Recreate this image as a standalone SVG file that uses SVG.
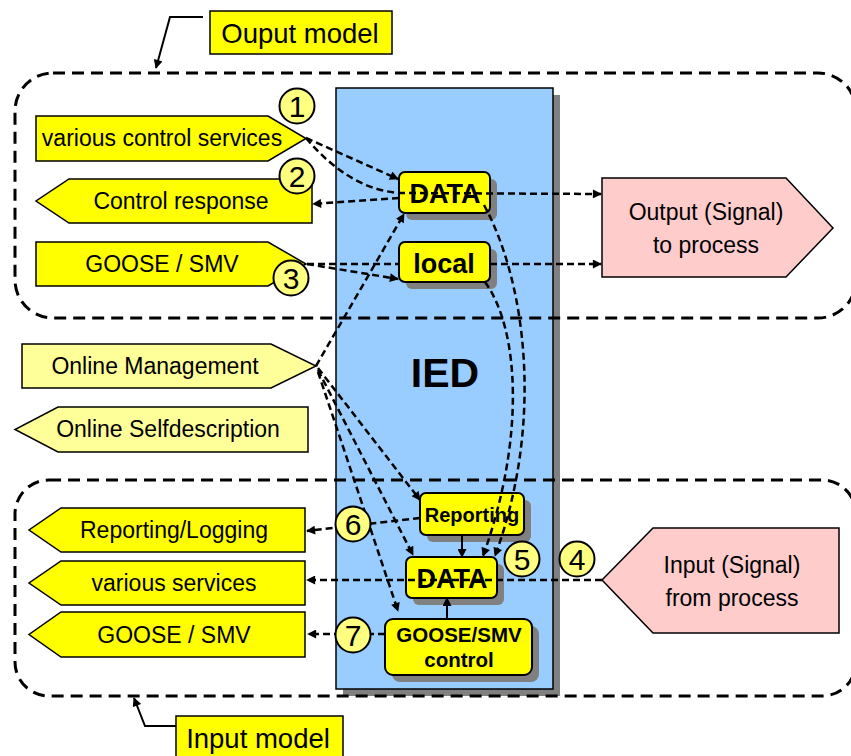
<svg xmlns="http://www.w3.org/2000/svg" width="851" height="756" viewBox="0 0 851 756">
<defs>
<style>
text{font-family:"Liberation Sans",Arial,sans-serif;fill:#000}
.t{font-size:23px;text-anchor:middle}
.b{font-weight:bold;text-anchor:middle}
.y{fill:#FFFF00;stroke:#000;stroke-width:1.5}
.ly{fill:#FFFF99;stroke:#000;stroke-width:1.5}
.pk{fill:#FFCCCC;stroke:#000;stroke-width:1.5}
.sh{fill:#808080}
.ib{fill:#FFFF00;stroke:#000;stroke-width:2}
.model{fill:none;stroke:#000;stroke-width:3;stroke-dasharray:12 7}
.c{fill:none;stroke:#000;stroke-width:2.5;stroke-dasharray:7 4;marker-end:url(#ah)}
.cn{fill:none;stroke:#000;stroke-width:2.5;stroke-dasharray:7 4}
.s{fill:none;stroke:#000;stroke-width:2;marker-end:url(#ah)}
.num{fill:#FFFF80;stroke:#000;stroke-width:2}
.n{font-size:30px;text-anchor:middle}
</style>
<marker id="ah" viewBox="0 0 10 10" refX="9" refY="5" markerWidth="10" markerHeight="9" markerUnits="userSpaceOnUse" orient="auto">
<path d="M0,0 L10,5 L0,10 z" fill="#000"/>
</marker>
</defs>

<g id="ied">
<rect class="sh" x="343" y="95" width="217" height="601"/>
<rect x="336" y="88" width="217" height="601" fill="#99CCFF" stroke="#000" stroke-width="1.5"/>
<text x="445" y="387" class="b" font-size="41">IED</text>
</g>

<g id="output-model">
<rect class="model" x="15" y="73" width="841" height="245" rx="38" ry="38"/>
</g>
<g id="input-model">
<rect class="model" x="15" y="480" width="841" height="216" rx="34" ry="34"/>
</g>

<g id="various-control-services">
<path class="y" d="M36,116 H268 L306,138.5 L268,161 H36 Z"/>
<text class="t" x="162" y="146">various control services</text>
</g>
<g id="control-response">
<path class="y" d="M312,179 H69 L36,201 L69,223 H312 Z"/>
<text class="t" x="181" y="209">Control response</text>
</g>
<g id="goose-smv-out">
<path class="y" d="M36,242 H268 L306,264 L268,286 H36 Z"/>
<text class="t" x="162" y="272">GOOSE / SMV</text>
</g>
<g id="online-management">
<path class="ly" d="M22,344 H271 L316,366 L271,388 H22 Z"/>
<text class="t" x="155" y="374">Online Management</text>
</g>
<g id="online-selfdescription">
<path class="ly" d="M308,407 H58 L15,429.5 L58,452 H308 Z"/>
<text class="t" x="168" y="437">Online Selfdescription</text>
</g>
<g id="reporting-logging">
<path class="y" d="M305,508 H61 L29,530 L61,552 H305 Z"/>
<text class="t" x="174" y="538">Reporting/Logging</text>
</g>
<g id="various-services">
<path class="y" d="M305,561 H61 L29,583 L61,605 H305 Z"/>
<text class="t" x="174" y="591">various services</text>
</g>
<g id="goose-smv-in">
<path class="y" d="M305,612 H61 L29,634.5 L61,657 H305 Z"/>
<text class="t" x="174" y="643">GOOSE / SMV</text>
</g>

<g id="output-signal">
<path class="pk" d="M602,178 H786 L833,228 L786,277 H602 Z"/>
<text class="t" x="706" y="220">Output (Signal)</text>
<text class="t" x="706" y="253">to process</text>
</g>
<g id="input-signal">
<path class="pk" d="M839,528 H653 L602,580 L653,633 H839 Z"/>
<text class="t" x="732" y="573">Input (Signal)</text>
<text class="t" x="732" y="606">from process</text>
</g>

<g id="data-out">
<rect class="sh" x="406" y="179" width="91" height="41" rx="6"/>
<rect class="ib" x="399" y="172" width="91" height="41" rx="6"/>
<text class="b" x="445" y="203" font-size="27">DATA</text>
</g>
<g id="local">
<rect class="sh" x="406" y="249" width="91" height="40" rx="6"/>
<rect class="ib" x="399" y="242" width="91" height="40" rx="6"/>
<text class="b" x="444" y="273" font-size="27">local</text>
</g>
<g id="reporting">
<rect class="sh" x="427" y="500" width="104" height="42" rx="6"/>
<rect class="ib" x="420" y="493" width="104" height="42" rx="6"/>
<text class="b" x="472" y="522" font-size="20">Reporting</text>
</g>
<g id="data-in">
<rect class="sh" x="413" y="564" width="91" height="41" rx="6"/>
<rect class="ib" x="406" y="557" width="91" height="41" rx="6"/>
<text class="b" x="452" y="588" font-size="27">DATA</text>
</g>
<g id="goose-smv-control">
<rect class="sh" x="392" y="626" width="147" height="56" rx="8"/>
<rect class="ib" x="385" y="619" width="147" height="56" rx="8"/>
<text class="b" x="459" y="642" font-size="20.5">GOOSE/SMV</text>
<text class="b" x="459" y="667" font-size="20.5">control</text>
</g>

<g id="connectors">
<path class="c" d="M306,138 L398,179"/>
<path class="c" d="M306,138 Q350,190 400,193 L601,194"/>
<path class="c" d="M399,198 L313,204"/>
<path class="cn" d="M307,264 L399,264"/>
<path class="c" d="M307,264 L398,279"/>
<path class="c" d="M490,264 L601,264"/>
<path class="c" d="M316,366 L404,214"/>
<path class="c" d="M318,368 L420,500"/>
<path class="c" d="M318,370 L413,555"/>
<path class="c" d="M318,372 L398,611"/>
<path class="c" d="M484,205 C525,280 545,420 495,556"/>
<path class="c" d="M485,282 C520,330 525,440 483,556"/>
<path class="c" d="M420,518 L307,531"/>
<path class="c" d="M602,580 L307,580"/>
<path class="c" d="M385,634 L308,634"/>
<path class="s" d="M462,535 L462,557"/>
<path class="s" d="M447,619 L447,598"/>
<path class="s" d="M203,17 L170,17 L156,68"/>
<path class="s" d="M176,726 L145,726 L134,698"/>
</g>

<g id="n1"><circle class="num" cx="297" cy="106" r="17.5"/><text class="n" x="297" y="117">1</text></g>
<g id="n2"><circle class="num" cx="297" cy="176" r="17.5"/><text class="n" x="297" y="187">2</text></g>
<g id="n3"><circle class="num" cx="291" cy="278" r="17.5"/><text class="n" x="291" y="289">3</text></g>
<g id="n4"><circle class="num" cx="577" cy="559" r="17.5"/><text class="n" x="577" y="570">4</text></g>
<g id="n5"><circle class="num" cx="522" cy="559" r="17.5"/><text class="n" x="522" y="570">5</text></g>
<g id="n6"><circle class="num" cx="353" cy="524" r="17.5"/><text class="n" x="353" y="535">6</text></g>
<g id="n7"><circle class="num" cx="353" cy="635" r="17.5"/><text class="n" x="353" y="646">7</text></g>

<g id="label-output-model">
<rect x="210" y="11" width="182" height="43" fill="#FFFF00" stroke="#000" stroke-width="1.5"/>
<text x="300" y="43" font-size="27.5" text-anchor="middle">Ouput model</text>
</g>
<g id="label-input-model">
<rect x="176" y="716" width="167" height="45" fill="#FFFF00" stroke="#000" stroke-width="1.5"/>
<text x="258" y="748" font-size="27.5" text-anchor="middle">Input model</text>
</g>
</svg>
